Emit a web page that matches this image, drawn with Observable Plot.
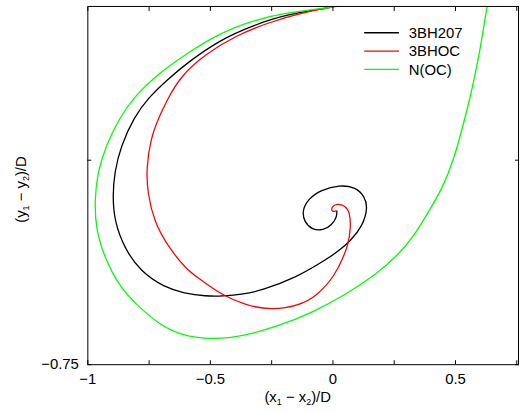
<!DOCTYPE html>
<html><head><meta charset="utf-8">
<script src="https://cdn.jsdelivr.net/npm/d3@7"></script>
<script src="https://cdn.jsdelivr.net/npm/@observablehq/plot@0.6"></script>
<style>
html,body{margin:0;padding:0;background:#fff;overflow:hidden;width:520px;height:412px;}
#chart{position:relative;width:520px;height:412px;overflow:hidden;}
svg{display:block;}
</style></head><body><div id="chart"></div>
<script>
const seriesNames = ["3BH207", "3BHOC", "N(OC)"];
const seriesColors = ["#000000", "#ff0000", "#00ff00"];

const bh207X = [0.061, 0, -0.190, -0.324, -0.462, -0.595, -0.676, -0.753, -0.810, -0.866, -0.891, -0.899, -0.891, -0.850, -0.785, -0.688, -0.607, -0.518, -0.453, -0.364, -0.291, -0.154, -0.020, 0.020, 0.073, 0.121, 0.142, 0.130, 0.089, 0.028, -0.049, -0.101, -0.126, -0.117, -0.085, -0.040, -0.004, 0.016, 0.016];
const bh207Y = [0.579, 0.561, 0.535, 0.495, 0.441, 0.357, 0.295, 0.229, 0.160, 0.051, -0.044, -0.131, -0.226, -0.324, -0.408, -0.466, -0.488, -0.499, -0.499, -0.492, -0.477, -0.433, -0.360, -0.335, -0.295, -0.240, -0.178, -0.131, -0.098, -0.091, -0.109, -0.142, -0.186, -0.226, -0.255, -0.258, -0.237, -0.208, -0.186];

const bhocX = [0.061, 0, -0.121, -0.259, -0.393, -0.526, -0.623, -0.676, -0.709, -0.745, -0.761, -0.757, -0.729, -0.676, -0.595, -0.547, -0.453, -0.356, -0.251, -0.142, -0.061, 0.008, 0.040, 0.061, 0.073, 0.069, 0.049, 0.020, 0, -0.008, 0, 0.012];
const bhocY = [0.579, 0.561, 0.542, 0.506, 0.459, 0.386, 0.306, 0.222, 0.160, 0.076, -0.033, -0.117, -0.226, -0.313, -0.404, -0.433, -0.495, -0.532, -0.550, -0.535, -0.495, -0.422, -0.360, -0.313, -0.251, -0.189, -0.167, -0.160, -0.167, -0.182, -0.189, -0.186];

const nocX = [0.636, 0.628, 0.615, 0.595, 0.567, 0.534, 0.494, 0.445, 0.397, 0.332, 0.263, 0.182, 0.049, -0.089, -0.223, -0.356, -0.494, -0.628, -0.717, -0.798, -0.866, -0.931, -0.968, -0.972, -0.960, -0.927, -0.870, -0.810, -0.729, -0.595, -0.462, -0.324, -0.190, 0, 0.101];
const nocY = [0.597, 0.561, 0.488, 0.379, 0.258, 0.138, 0.004, -0.106, -0.178, -0.277, -0.350, -0.415, -0.495, -0.561, -0.608, -0.644, -0.659, -0.641, -0.597, -0.532, -0.470, -0.360, -0.251, -0.142, -0.044, 0.051, 0.157, 0.233, 0.306, 0.393, 0.466, 0.513, 0.542, 0.561, 0.575];

const xTicksMajor = [-1, -0.5, 0, 0.5];
const xTicksAll = [-1, -0.75, -0.5, -0.25, 0, 0.25, 0.5, 0.75];
const yTicksLabeled = [-0.75];
const yTicksAll = [-0.75, 0];

const seriesX = [bh207X, bhocX, nocX];
const seriesY = [bh207Y, bhocY, nocY];
const rows = [];
seriesNames.forEach((name, i) => {
  seriesX[i].forEach((x, j) => rows.push({series: name, x, y: seriesY[i][j]}));
});

const fmt = d3.format("");
const noLabel = () => "";
const font = "'Liberation Sans', Arial, Helvetica, sans-serif";

const plot = Plot.plot({
  width: 524, height: 412,
  marginLeft: 88, marginRight: 2, marginTop: 6, marginBottom: 45,
  x: {domain: [-1, 0.757]},
  y: {domain: [-0.75, 0.564]},
  color: {domain: seriesNames, range: seriesColors},
  style: {fontFamily: font, fontSize: "15px", color: "#000", background: "#fff", overflow: "hidden"},
  marks: [
    Plot.line(rows, {x: "x", y: "y", z: "series", stroke: "series", strokeWidth: 1.3, curve: "basis", clip: true}),
    Plot.frame({stroke: "#000", strokeWidth: 1}),
    Plot.axisX({anchor: "bottom", ticks: xTicksMajor, tickSize: 0, tickPadding: 9, tickFormat: fmt, label: null, fontSize: 15}),
    Plot.axisX({anchor: "bottom", ticks: xTicksAll, tickSize: -4, tickFormat: noLabel, label: null}),
    Plot.axisX({anchor: "top", ticks: xTicksAll, tickSize: -4, tickFormat: noLabel, label: null}),
    Plot.axisY({anchor: "left", ticks: yTicksLabeled, tickSize: 0, tickPadding: 9, tickFormat: fmt, label: null, fontSize: 15}),
    Plot.axisY({anchor: "left", ticks: yTicksAll, tickSize: -4, tickFormat: noLabel, label: null}),
    Plot.axisY({anchor: "right", ticks: yTicksAll, tickSize: -4, tickFormat: noLabel, label: null})
  ]
});
document.getElementById("chart").appendChild(plot);

const svg = d3.select(plot);
// x axis label
const xl = svg.append("text").attr("x", 300).attr("y", 405).attr("text-anchor", "middle")
  .style("font-family", font).style("font-size", "15px").attr("fill", "#000");
xl.append("tspan").text("(x");
xl.append("tspan").attr("dy", 3).style("font-size", "9px").text("1");
xl.append("tspan").attr("dy", -3).text(" \u2212 x");
xl.append("tspan").attr("dy", 3).style("font-size", "9px").text("2");
xl.append("tspan").attr("dy", -3).text(")/D");
// y axis label
const yl = svg.append("text").attr("transform", "translate(26,191) rotate(-90)").attr("text-anchor", "middle")
  .style("font-family", font).style("font-size", "15px").attr("fill", "#000");
yl.append("tspan").text("(y");
yl.append("tspan").attr("dy", 3).style("font-size", "9px").text("1");
yl.append("tspan").attr("dy", -3).text(" \u2212 y");
yl.append("tspan").attr("dy", 3).style("font-size", "9px").text("2");
yl.append("tspan").attr("dy", -3).text(")/D");

// legend
const lg = svg.append("g").style("font-family", font).style("font-size", "15px").attr("text-anchor", "start");
seriesNames.forEach((name, i) => {
  const yy = 33 + i * 18.5;
  lg.append("line").attr("x1", 367).attr("x2", 402).attr("y1", yy).attr("y2", yy)
    .attr("stroke", seriesColors[i]).attr("stroke-width", 1.3);
  lg.append("text").attr("x", 412).attr("y", yy).attr("dy", "0.35em").attr("text-anchor", "start").attr("fill", "#000").text(name);
});
</script>
</body></html>
